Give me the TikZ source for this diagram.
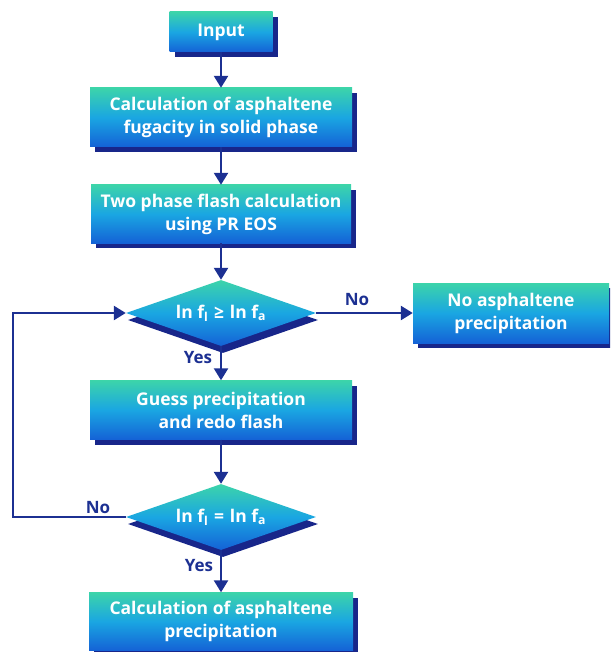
\documentclass[tikz,border=0pt]{standalone}
\usepackage{fontspec}
\setmainfont{Open Sans}
\usetikzlibrary{shapes.geometric,arrows.meta,shadows}

\definecolor{ctop}{RGB}{60,212,170}
\definecolor{cmid}{RGB}{26,166,226}
\definecolor{cbot}{RGB}{20,98,214}
\definecolor{navy}{RGB}{24,38,138}
\definecolor{linec}{RGB}{28,48,146}

\pgfdeclareverticalshading{boxfill}{100bp}{color(0bp)=(cbot); color(25bp)=(cbot); color(50bp)=(cmid); color(75bp)=(ctop); color(100bp)=(ctop)}

\tikzset{
  boxtext/.style={text=white, font=\bfseries\fontsize{17.5}{23}\selectfont, align=center},
  procbox/.style={rectangle, shading=boxfill, inner sep=0pt, boxtext,
    drop shadow={shadow xshift=5pt, shadow yshift=-5pt, fill=navy, opacity=1}},
  decision/.style={diamond, aspect=2.9, minimum width=190pt, minimum height=66pt,
    inner sep=0pt, shading=boxfill, boxtext,
    drop shadow={shadow xshift=2pt, shadow yshift=-7pt, fill=navy, opacity=1}},
  arr/.style={draw=linec, line width=2.4pt, -{Triangle[width=14pt,length=12pt]}},
  lbl/.style={text=linec, font=\bfseries\fontsize{17}{20}\selectfont, inner sep=0pt}
}

\begin{document}
\begin{tikzpicture}[x=1pt,y=-1pt]
\useasboundingbox (0,0) rectangle (610,652);
\clip (0,0) rectangle (610,652);

\node[procbox, minimum width=103pt, minimum height=40pt] (input) at (221,32) {Input};
\node[procbox, minimum width=262pt, minimum height=59pt] (calc1) at (221,117.5) {Calculation of asphaltene\\fugacity in solid phase};
\node[procbox, minimum width=260pt, minimum height=58pt] (flash) at (221,214) {Two phase flash calculation\\using PR EOS};
\node[decision] (dec1) at (221,313) {ln f\textsubscript{l}\,\,≥\,\,ln f\textsubscript{a}};
\node[procbox, minimum width=196pt, minimum height=60pt] (noprec) at (511,313) {No asphaltene\\precipitation};
\node[procbox, minimum width=262pt, minimum height=59pt] (guess) at (221,410) {Guess precipitation\\and redo flash};
\node[decision] (dec2) at (221,517) {ln f\textsubscript{l}\,\,=\,\,ln f\textsubscript{a}};
\node[procbox, minimum width=264pt, minimum height=58pt] (final) at (221,621.5) {Calculation of asphaltene\\precipitation};

\coordinate (lx) at (13,0);

\draw[arr] (input) -- (calc1);
\draw[arr] (calc1) -- (flash);
\draw[arr] (flash) -- (dec1);
\draw[arr] (dec1) -- (guess);
\draw[arr] (dec1) -- (noprec);
\draw[arr] (guess) -- (dec2);
\draw[arr] (dec2) -- (final);
\draw[arr] (dec2.west) -- (dec2.west -| lx) |- (dec1.west);

\node[lbl] (no1) at (357,300) {No};
\node[lbl] (yes1) at (198,358) {Yes};
\node[lbl] (no2) at (98,508) {No};
\node[lbl] (yes2) at (199,566) {Yes};
\end{tikzpicture}
\end{document}
